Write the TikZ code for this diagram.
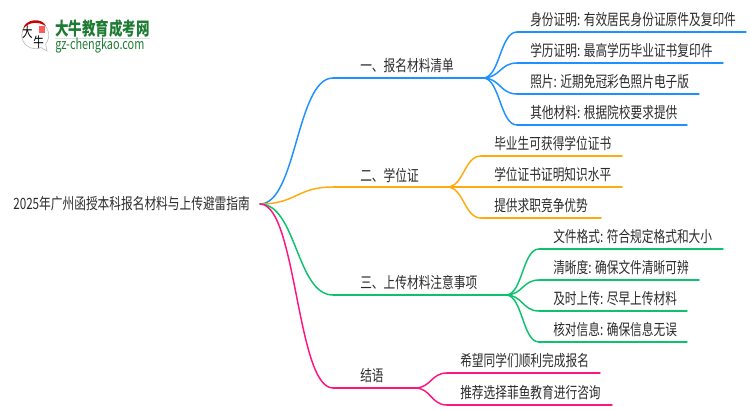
\documentclass[tikz,border=0pt]{standalone}
\usepackage{fontspec}
\setmainfont[FakeStretch=0.75]{Noto Sans CJK SC}
\usetikzlibrary{calc}
\definecolor{blueline}{HTML}{1E90FF}
\definecolor{orangeline}{HTML}{FFAA0D}
\definecolor{greenline}{HTML}{0CC26E}
\definecolor{pinkline}{HTML}{FF1480}
\definecolor{logogreen}{HTML}{1E7B34}
\definecolor{inktext}{HTML}{2B2B2B}
\tikzset{
    txt/.style={anchor=west, inner sep=0pt, text=inktext, font=\fontsize{11.7pt}{13pt}\selectfont},
    edge/.style={line width=1.1pt, line cap=round},
}
% S-shaped link between two points
\newcommand{\slink}[3]{\draw[edge, #1] (#2) .. controls ($(#2)!0.5!(#3|-#2)$) and ($(#3)!0.5!(#2|-#3)$) .. (#3);}
\begin{document}
\begin{tikzpicture}[x=0.75pt, y=-0.75pt]
    \useasboundingbox (0,0) rectangle (750,410);
    % Logo
    \draw[black!25, line width=0.5pt, fill=white] (47,51) -- (41,47.5) arc (65:400:13.5) -- cycle;
    \fill[red!80!black] (23,29) .. controls (25,19) and (42,17) .. (46,26) .. controls (38,21) and (28,22) .. (23,29) -- cycle;
    \fill[red!65!white] (39,26) rectangle (45,33);
    \node[inner sep=0pt, font=\fontsize{10.5pt}{11pt}\selectfont] (logoa) at (27.5,32.5) {大};
    \node[inner sep=0pt, font=\fontsize{10.5pt}{11pt}\selectfont] (logob) at (38.5,42.5) {牛};
    \node[txt, text=logogreen, font=\fontsize{13.5pt}{14pt}\bfseries\selectfont] (logoname) at (55,28.5) {大牛教育成考网};
    \draw[black!12, line width=0.6pt] (55,38) -- (150,38);
    \node[txt, text=logogreen, font=\fontsize{10.9pt}{12pt}\selectfont] (logourl) at (55,46) {gz-chengkao.com};
    % Root
    \node[txt] (root) at (13,204) {2025年广州函授本科报名材料与上传避雷指南};
    \coordinate (rootout) at (260,204);
    % Branches
    \foreach \name/\col/\ly/\xe/\xt/\lab in {
        one/blueline/78/483/360/一、报名材料清单,
        two/orangeline/187/447/360/二、学位证,
        three/greenline/295/506/360/三、上传材料注意事项,
        four/pinkline/388/415/360/结语} {
        \coordinate (\name s) at (333,\ly);
        \coordinate (\name e) at (\xe,\ly);
        \node[txt] (\name) at (\xt,\ly-12) {\lab};
        \slink{\col}{rootout}{\name s}
        \draw[edge, \col] (\name s) -- (\name e);
    }
    % Leaves
    \foreach \up/\name/\col/\ly/\xs/\xe/\xt/\lab in {
        one/a/blueline/32/517/746/530/身份证明: 有效居民身份证原件及复印件,
        one/b/blueline/63/517/723/530/学历证明: 最高学历毕业证书复印件,
        one/c/blueline/94/517/699/530/照片: 近期免冠彩色照片电子版,
        one/d/blueline/125/517/687/530/其他材料: 根据院校要求提供,
        two/a/orangeline/156/481/622/494/毕业生可获得学位证书,
        two/b/orangeline/187/481/622/494/学位证书证明知识水平,
        two/c/orangeline/218/481/601/494/提供求职竞争优势,
        three/a/greenline/249/539/723/553/文件格式: 符合规定格式和大小,
        three/b/greenline/280/539/699/553/清晰度: 确保文件清晰可辨,
        three/c/greenline/311/539/687/553/及时上传: 尽早上传材料,
        three/d/greenline/342/539/687/553/核对信息: 确保信息无误,
        four/a/pinkline/373/447/600/460/希望同学们顺利完成报名,
        four/b/pinkline/405/447/612/460/推荐选择菲鱼教育进行咨询} {
        \coordinate (\up\name s) at (\xs,\ly);
        \coordinate (\up\name e) at (\xe,\ly);
        \node[txt] (\up\name) at (\xt,\ly-12) {\lab};
        \slink{\col}{\up e}{\up\name s}
        \draw[edge, \col] (\up\name s) -- (\up\name e);
    }
\end{tikzpicture}
\end{document}
